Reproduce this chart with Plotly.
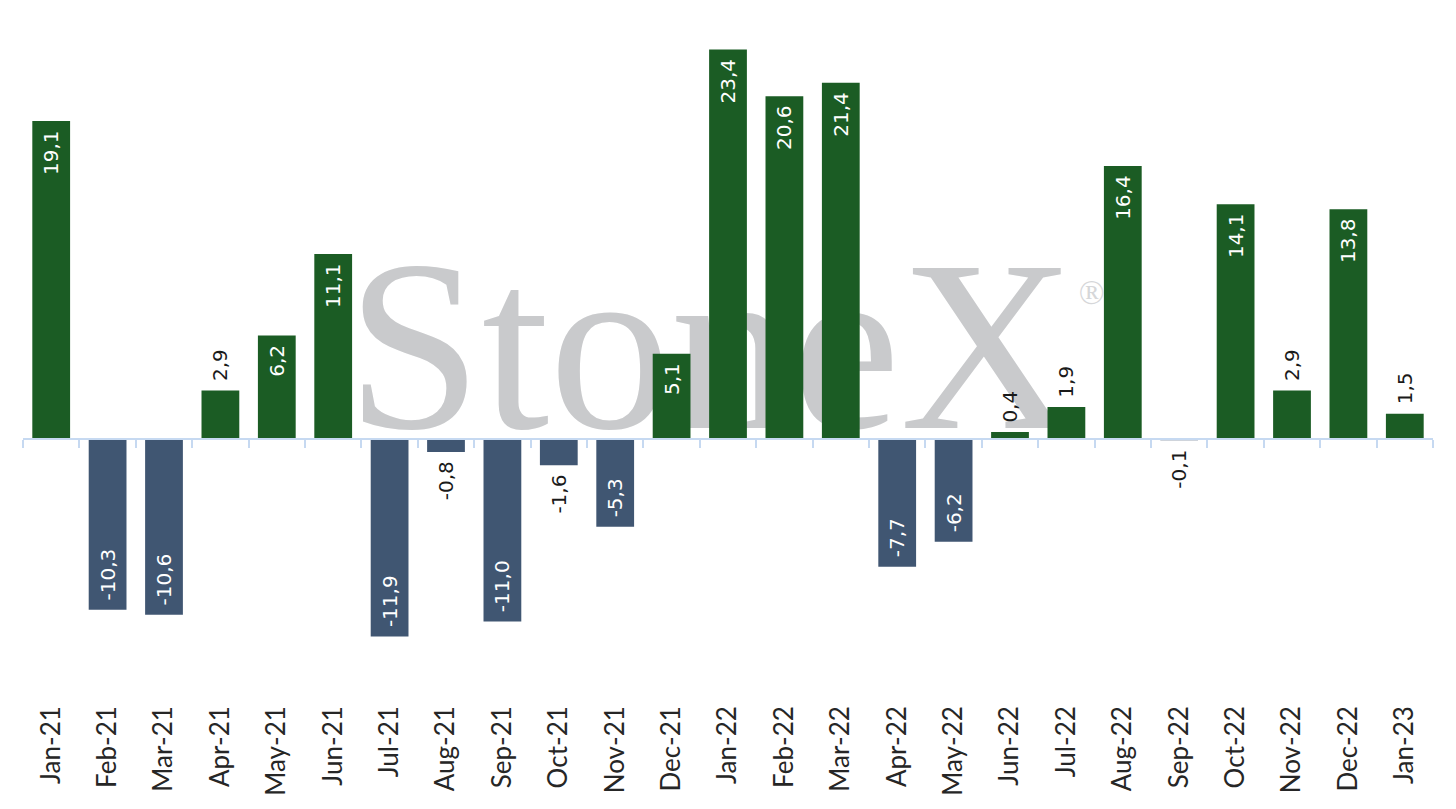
import plotly.graph_objects as go

# monthly change
months = [
    "Jan-21", "Feb-21", "Mar-21", "Apr-21", "May-21", "Jun-21", "Jul-21",
    "Aug-21", "Sep-21", "Oct-21", "Nov-21", "Dec-21", "Jan-22", "Feb-22",
    "Mar-22", "Apr-22", "May-22", "Jun-22", "Jul-22", "Aug-22", "Sep-22",
    "Oct-22", "Nov-22", "Dec-22", "Jan-23",
]
values = [
    19.1, -10.3, -10.6, 2.9, 6.2, 11.1, -11.9, -0.8, -11.0, -1.6, -5.3, 5.1,
    23.4, 20.6, 21.4, -7.7, -6.2, 0.4, 1.9, 16.4, -0.1, 14.1, 2.9, 13.8, 1.5,
]
watermark = ["StoneX", "®"]

GREEN = "#1b5c24"
SLATE = "#405672"
AXIS_BLUE = "#c6d9f1"
NBSP = "\u00a0"

colors = [GREEN if v >= 0 else SLATE for v in values]
positions = ["inside" if abs(v) >= 5 else "outside" for v in values]

# a non-breaking space on the bar side of each label keeps it off the bar end
labels = []
for v, pos in zip(values, positions):
    s = f"{v:.1f}".replace(".", ",")
    if (v >= 0) != (pos == "inside"):
        s = NBSP + s
    else:
        s = s + NBSP
    labels.append(s)

fig = go.Figure()

# watermark sits on the base subplot so the bars are drawn over it
fig.add_trace(go.Scatter(
    x=[0.488, 0.758], y=[0.483, 0.59],
    mode="text", text=watermark,
    textfont=dict(family="Liberation Serif", size=[243, 34],
                  color=["#c9cacc", "#d6d7d9"]),
    textposition="middle center",
    hoverinfo="skip", showlegend=False,
    xaxis="x", yaxis="y",
))

fig.add_trace(go.Bar(
    x=months, y=values,
    marker=dict(color=colors, line=dict(width=0)),
    text=labels, textposition=positions, textangle=-90,
    insidetextanchor="end", constraintext="none",
    insidetextfont=dict(family="DejaVu Sans", size=20, color="white"),
    outsidetextfont=dict(family="DejaVu Sans", size=20, color="#1a1a1a"),
    cliponaxis=False,
    showlegend=False,
    xaxis="x2", yaxis="y2",
))

# empty trace so the zero-line axis gets its categories
fig.add_trace(go.Scatter(
    x=months, y=[None] * len(months), mode="markers",
    hoverinfo="skip", showlegend=False,
    xaxis="x3", yaxis="y2",
))

# the page body adds 8px around the figure, so it is sized to fit inside it
fig.update_layout(
    width=1440, height=793,
    margin=dict(l=15, r=15, t=15, b=113),
    paper_bgcolor="white", plot_bgcolor="white",
    bargap=0.33,
    xaxis=dict(range=[0, 1], visible=False, fixedrange=True, automargin=False),
    yaxis=dict(range=[0, 1], visible=False, fixedrange=True, automargin=False),
    xaxis2=dict(
        overlaying="x", anchor="y2", side="bottom",
        type="category", categoryarray=months, range=[-0.5, len(months) - 0.5],
        tickangle=-90, ticks="", showline=False, showgrid=False,
        ticklabelstandoff=12,
        tickfont=dict(family="Lato", size=26, color="#262626"),
        automargin=False,
    ),
    xaxis3=dict(
        overlaying="x", anchor="free", position=15 / 40,
        type="category", categoryarray=months, range=[-0.5, len(months) - 0.5],
        tickson="boundaries", ticks="outside", ticklen=8, tickwidth=2,
        tickcolor=AXIS_BLUE, showline=True, linecolor=AXIS_BLUE, linewidth=2,
        showticklabels=False, showgrid=False, automargin=False,
    ),
    yaxis2=dict(
        overlaying="y", range=[-15, 25], showgrid=False,
        showticklabels=False, zeroline=False, showline=False,
        automargin=False,
    ),
)

fig.write_html("out.html")
